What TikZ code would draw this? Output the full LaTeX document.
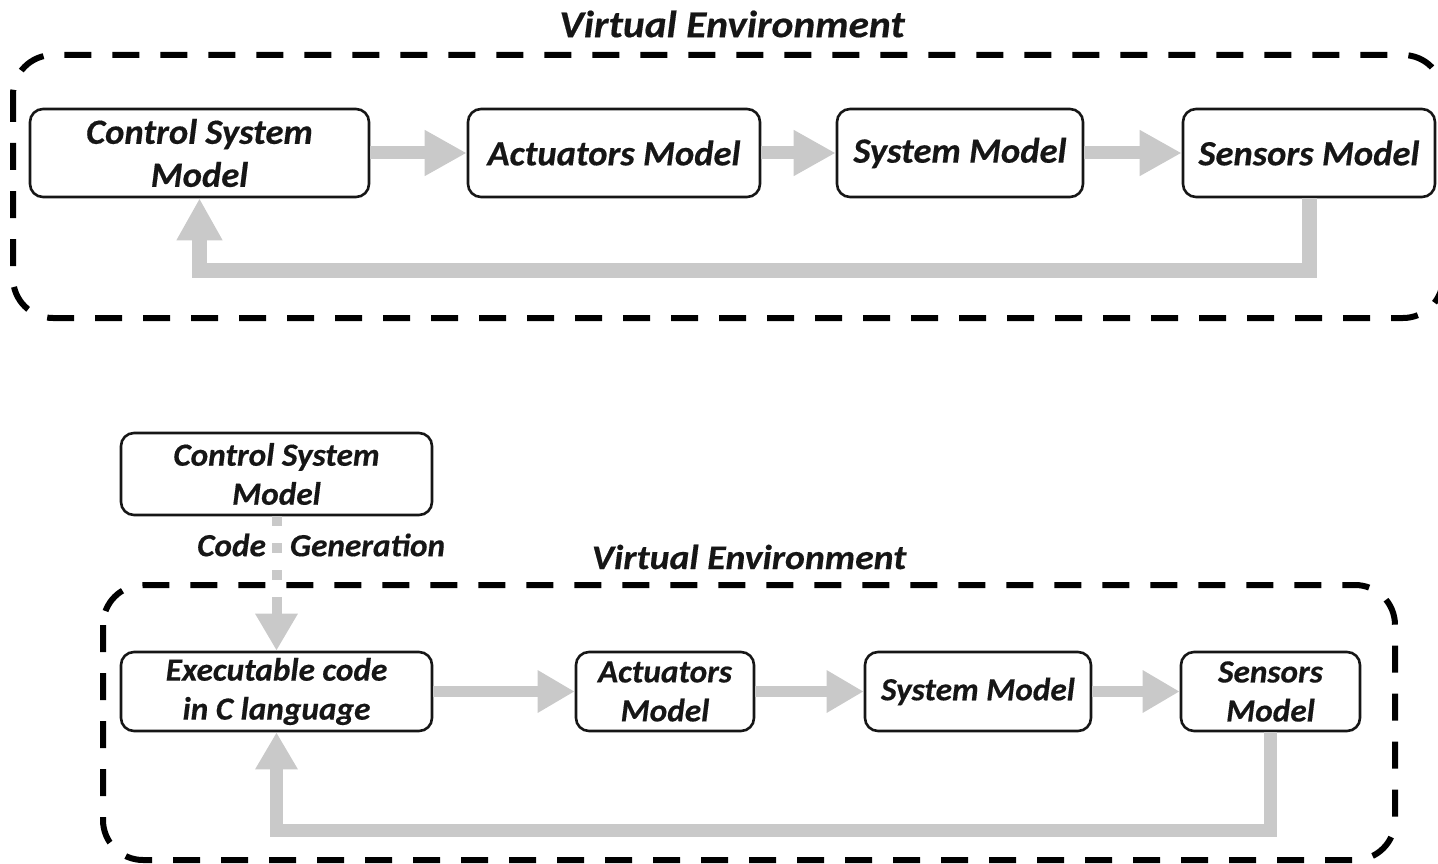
\documentclass[tikz,border=0pt]{standalone}
\usepackage{fontspec}
\setmainfont{Carlito}
\newfontfamily\boxfont[FakeStretch=1.03, FakeBold=0.4]{Carlito}
\newfontfamily\titlefont[FakeStretch=1.09, FakeBold=0.4]{Carlito}
\usetikzlibrary{arrows.meta}

\definecolor{flowgray}{HTML}{C9C9C9}
\definecolor{inkblack}{HTML}{161616}

\tikzset{
  modelbox/.style={draw=inkblack, line width=2.6pt, rounded corners=13pt,
    align=center, inner sep=0pt, text=inkblack},
  bigtxt/.style={font=\boxfont\fontsize{35.5}{43}\selectfont\bfseries\itshape},
  smalltxt/.style={font=\boxfont\fontsize{32.3}{39}\selectfont\bfseries\itshape},
  bigtitle/.style={text=inkblack, font=\titlefont\fontsize{38}{44}\selectfont\bfseries\itshape},
  smalltitle/.style={text=inkblack, font=\titlefont\fontsize{34.6}{40}\selectfont\bfseries\itshape},
  envframe/.style={draw=black, line width=6pt, rounded corners=40pt,
    dash pattern=on 27pt off 21pt},
  flowbig/.style={draw=flowgray, line width=13pt,
    -{Triangle[length=42pt 0 0, width=43pt 0 0]}},
  flowsmall/.style={draw=flowgray, line width=11pt,
    -{Triangle[length=37pt 0 0, width=40pt 0 0]}},
  backbig/.style={draw=flowgray, line width=15pt, line join=miter,
    -{Triangle[length=42pt 0 0, width=43pt 0 0]}},
  backsmall/.style={draw=flowgray, line width=13pt, line join=miter,
    -{Triangle[length=37pt 0 0, width=40pt 0 0]}},
  codegen/.style={draw=flowgray, line width=10pt, dash pattern=on 10pt off 17pt},
}

\begin{document}
\begin{tikzpicture}[x=1pt, y=-1pt]
\useasboundingbox (0,0) rectangle (1438,864);

% ---------------- upper loop: model in the loop ----------------
\node[bigtitle] (titleA) at (732,24) {Virtual Environment};

\node[modelbox, bigtxt, minimum width=339pt, minimum height=88pt]
  (csm) at (199.5,153) {Control System\\Model};
\node[modelbox, bigtxt, minimum width=292pt, minimum height=88pt]
  (act) at (614,153) {Actuators Model};
\node[modelbox, bigtxt, minimum width=246pt, minimum height=88pt]
  (sys) at (960,153) {System Model};
\node[modelbox, bigtxt, minimum width=252pt, minimum height=88pt]
  (sen) at (1309,153) {Sensors Model};

\coordinate (fbA) at (0,270);
\draw[flowbig] (csm) -- (act);
\draw[flowbig] (act) -- (sys);
\draw[flowbig] (sys) -- (sen);
\draw[backbig] (sen.south) -- (sen.south |- fbA) -- (csm.south |- fbA) -- (csm.south);

\draw[envframe] (13,55) rectangle (1443,318);

% ---------------- lower loop: generated code in the loop ----------------
\node[modelbox, smalltxt, minimum width=311pt, minimum height=82pt]
  (csm2) at (276.5,474) {Control System\\Model};

\node[smalltitle] (titleB) at (749,557) {Virtual Environment};

\node[modelbox, smalltxt, minimum width=311pt, minimum height=79pt]
  (exe) at (276.5,691.5) {Executable code\\in C language};
\node[modelbox, smalltxt, minimum width=178pt, minimum height=79pt]
  (act2) at (665,691.5) {Actuators\\Model};
\node[modelbox, smalltxt, minimum width=226pt, minimum height=79pt]
  (sys2) at (978,691.5) {System Model};
\node[modelbox, smalltxt, minimum width=179pt, minimum height=79pt]
  (sen2) at (1270.5,691.5) {Sensors\\Model};

% code generation step: dotted lead-in, then a solid arrow into the frame
\coordinate (cg) at (276.5,597);
\draw[codegen] (csm2.south) -- (cg);
\draw[flowsmall, line width=10pt] (cg) -- (exe.north);
\node[smalltxt, text=inkblack, anchor=west, inner sep=0pt]
  (cgl) at (197,545) {Code\hspace{24pt}Generation};

\coordinate (fbB) at (0,830);
\draw[flowsmall] (exe) -- (act2);
\draw[flowsmall] (act2) -- (sys2);
\draw[flowsmall] (sys2) -- (sen2);
\draw[backsmall] (sen2.south) -- (sen2.south |- fbB) -- (exe.south |- fbB) -- (exe.south);

\draw[envframe] (103,585) rectangle (1395,860);
\end{tikzpicture}
\end{document}
